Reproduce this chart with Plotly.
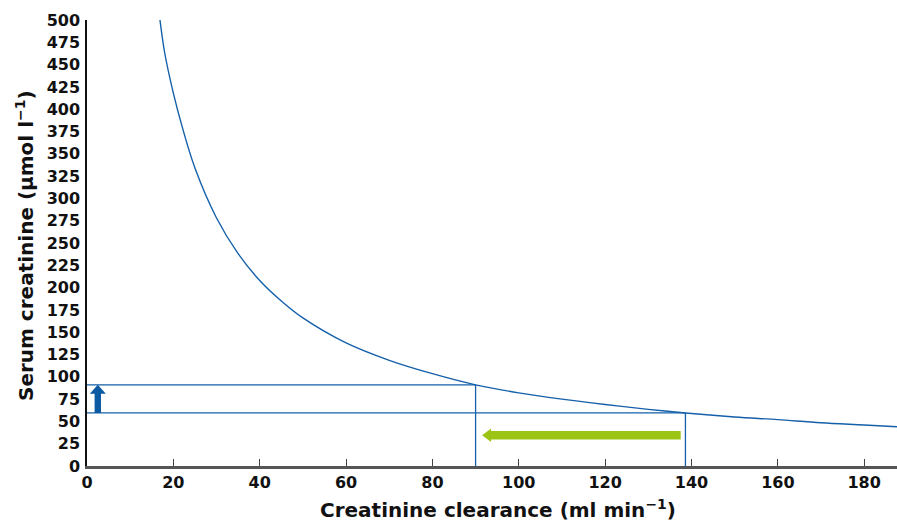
import plotly.graph_objects as go

# Curve (creatinine clearance vs serum creatinine)
clearance = [16.9, 18, 20, 22, 25, 30, 35, 40, 45, 50, 60, 70, 80, 90, 100, 110,
             120, 130, 138.6, 150, 160, 170, 180, 187.6]
serum_cr = [500, 463, 418, 381, 334, 278, 238, 208, 185, 166, 138, 118.5, 103.5, 91, 82,
            75, 69, 63.5, 59.5, 55, 52, 48.5, 46, 44]

# Guide lines
guide_x = [90, 138.6]
guide_y = [91, 59.5]

# Arrows (data units)
blue_arrow_x = 2.5
blue_arrow_y = [59.5, 91]
green_arrow_y = 34.5
green_arrow_x = [137.5, 91.5]

x_range = [0, 187.6]
y_range = [0, 500]
x_ticks = [0, 20, 40, 60, 80, 100, 120, 140, 160, 180]
y_ticks = list(range(0, 501, 25))

W, H = 897, 521
ML, MR, MT, MB = 87, 0, 20, 55
px_x = (x_range[1] - x_range[0]) / (W - ML - MR)
px_y = (y_range[1] - y_range[0]) / (H - MT - MB)

LINE = "#1560aa"
FONT = "DejaVu Sans"

fig = go.Figure()
fig.add_trace(go.Scatter(x=clearance, y=serum_cr, mode="lines",
                         line=dict(color=LINE, width=1.4, shape="spline", smoothing=1.0),
                         hoverinfo="skip", showlegend=False, cliponaxis=True))

shapes = []
for gx, gy in zip(guide_x, guide_y):
    shapes.append(dict(type="line", x0=0, x1=gx, y0=gy, y1=gy, xref="x", yref="y",
                       line=dict(color=LINE, width=1.3)))
    shapes.append(dict(type="line", x0=gx, x1=gx, y0=0, y1=gy, xref="x", yref="y",
                       line=dict(color=LINE, width=1.3)))

# blue up arrow
bx = blue_arrow_x
y0, y1 = blue_arrow_y
sw = 3.2 * px_x
hw = 8 * px_x
hl = 9 * px_y
p = (f"M {bx-sw} {y0} L {bx-sw} {y1-hl} L {bx-hw} {y1-hl} L {bx} {y1} "
     f"L {bx+hw} {y1-hl} L {bx+sw} {y1-hl} L {bx+sw} {y0} Z")
shapes.append(dict(type="path", path=p, xref="x", yref="y",
                   fillcolor="#0b5aa3", line=dict(width=0)))

# green left arrow
gy = green_arrow_y
x0, x1 = green_arrow_x
sh = 4.2 * px_y
hh = 6.8 * px_y
hlx = 9 * px_x
p = (f"M {x0} {gy-sh} L {x1+hlx} {gy-sh} L {x1+hlx} {gy-hh} L {x1} {gy} "
     f"L {x1+hlx} {gy+hh} L {x1+hlx} {gy+sh} L {x0} {gy+sh} Z")
shapes.append(dict(type="path", path=p, xref="x", yref="y",
                   fillcolor="#9cc414", line=dict(width=0)))

fig.update_layout(
    width=W, height=H,
    margin=dict(l=ML, r=MR, t=MT, b=MB),
    paper_bgcolor="white", plot_bgcolor="white",
    font=dict(family=FONT, color="#111111"),
    shapes=shapes,
    xaxis=dict(range=x_range, tickvals=x_ticks, ticks="inside", ticklen=7,
               tickcolor="#444444", tickwidth=1, showgrid=False, zeroline=False,
               showline=True, linecolor="#555555", linewidth=3, automargin=False,
               tickfont=dict(family=FONT, size=16, color="#111111", weight="bold"),
               fixedrange=True),
    yaxis=dict(range=y_range, tickvals=y_ticks, ticks="", showgrid=False,
               zeroline=False, showline=True, linecolor="#111111", linewidth=1.5,
               automargin=False, ticklabelstandoff=2,
               tickfont=dict(family=FONT, size=16, color="#111111", weight="bold"),
               fixedrange=True),
    annotations=[
        dict(text="Creatinine clearance (ml min<sup>\u22121</sup>)", xref="paper", yref="paper",
             x=0.5, y=0, yanchor="top", xanchor="center", yshift=-28, xshift=6,
             showarrow=False, font=dict(family=FONT, size=20, color="#111111", weight="bold")),
        dict(text="Serum creatinine (\u03bcmol l<sup>\u22121</sup>)", xref="paper", yref="paper",
             x=0, y=0.5, xanchor="center", yanchor="middle", xshift=-62, yshift=-3,
             textangle=-90, showarrow=False,
             font=dict(family=FONT, size=20, color="#111111", weight="bold")),
    ],
)

fig.write_html("out.html", config={"displayModeBar": False},
               post_script="document.body.style.margin='0';document.body.style.overflow='hidden';")
